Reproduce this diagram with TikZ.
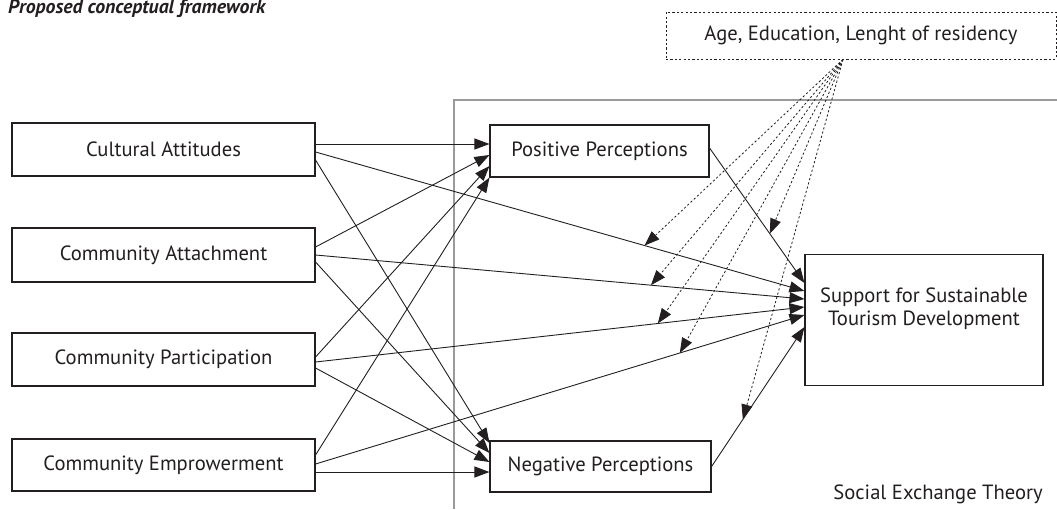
\documentclass[tikz,border=0pt]{standalone}
\usepackage{fontspec}
\setmainfont{PT Sans}
\usetikzlibrary{arrows.meta}
\definecolor{ink}{HTML}{231F20}
\definecolor{framegray}{HTML}{9A9A9A}
\begin{document}
\begin{tikzpicture}[x=1pt,y=-1pt,
  font=\fontsize{20.6}{23}\selectfont,
  box/.style={draw=ink, line width=1.1pt, inner sep=0pt, text=ink, fill=white},
  leftbox/.style={box, minimum width=303pt, minimum height=53pt},
  arr/.style={draw=ink, line width=0.9pt, -{Triangle[length=15pt,width=11pt]}},
  dotarr/.style={draw=ink, line width=0.8pt, dash pattern=on 2.2pt off 2.2pt, -{Triangle[length=15pt,width=11pt]}},
  framed/.style={draw=framegray, line width=1.3pt}]
\useasboundingbox (0,0) rectangle (1057,509);

% title
\node[anchor=base west, inner sep=0pt, text=ink, font=\fontsize{19.8}{22}\selectfont\bfseries\itshape] (title) at (8,13) {Proposed conceptual framework};

% theory frame
\coordinate (fbl) at (454,509);
\coordinate (ftl) at (454,100);
\coordinate (ftr) at (1057,100);
\draw[framed] (fbl) -- (ftl) -- (ftr);

% nodes
\node[leftbox] (ca) at (163.5,149.5) {Cultural Attitudes};
\node[leftbox, minimum height=54pt] (cat) at (163.5,255) {Community Attachment};
\node[leftbox] (cp) at (163.5,359.5) {Community Participation};
\node[leftbox, minimum height=52pt] (ce) at (163.5,465) {Community Emprowerment};
\node[box, minimum width=219pt, minimum height=52pt] (pp) at (599.5,151) {Positive Perceptions};
\node[box, minimum width=221pt, minimum height=51pt] (np) at (600.5,466.5) {Negative Perceptions};
\node[box, minimum width=238pt, minimum height=131pt] (sup) at (924,320) {};
\node[text=ink, align=center, inner sep=0pt, font=\fontsize{20.6}{23}\selectfont] (suptext) at (924,309) {Support for Sustainable\\Tourism Development};
\node[draw=ink, line width=0.8pt, dash pattern=on 2.2pt off 2.2pt, inner sep=0pt, text=ink,
      minimum width=390pt, minimum height=47pt] (age) at (861,35.5) {Age, Education, Lenght of residency};
\node[anchor=east, inner sep=0pt, text=ink] (set) at (1043,494) {Social Exchange Theory};

% connectors to Positive Perceptions
\draw[arr] ([yshift=5.5pt]ca.east) -- ([yshift=7pt]pp.west);
\draw[arr] ([yshift=8pt]cat.east) -- ([yshift=-4pt]pp.west);
\draw[arr] ([yshift=2.5pt]cp.east) -- ([yshift=-15pt]pp.west);
\draw[arr] ([yshift=10pt]ce.east) -- (pp.south west);

% connectors to Negative Perceptions
\draw[arr] ([yshift=-10.5pt]ca.east) -- ([yshift=23.5pt]np.west);
\draw[arr] ([yshift=-7pt]cat.east) -- ([yshift=13.5pt]np.west);
\draw[arr] ([yshift=-8.5pt]cp.east) -- ([yshift=4.5pt]np.west);
\draw[arr] ([yshift=-7pt]ce.east) -- ([yshift=-5.5pt]np.west);

% connectors to Support
\draw[arr] ([yshift=3pt]pp.east) -- coordinate[pos=0.635] (m5) ([yshift=37pt]sup.west);
\draw[arr] ([yshift=-2.5pt]ca.east) -- coordinate[pos=0.673] (m1) ([yshift=29pt]sup.west);
\draw[arr] (cat.east) -- coordinate[pos=0.686] (m2) ([yshift=21pt]sup.west);
\draw[arr] ([yshift=-2.5pt]cp.east) -- coordinate[pos=0.70] (m3) ([yshift=13pt]sup.west);
\draw[arr] ([yshift=1pt]ce.east) -- coordinate[pos=0.745] (m4) ([yshift=5pt]sup.west);
\draw[arr] (np.east) -- coordinate[pos=0.337] (m6) ([yshift=-7pt]sup.west);

% moderating dotted arrows
\coordinate (src) at ([xshift=-18pt]age.south);
\foreach \m in {m1,m2,m3,m4,m5,m6}
  \draw[dotarr] (src) -- (\m);
\end{tikzpicture}
\end{document}
